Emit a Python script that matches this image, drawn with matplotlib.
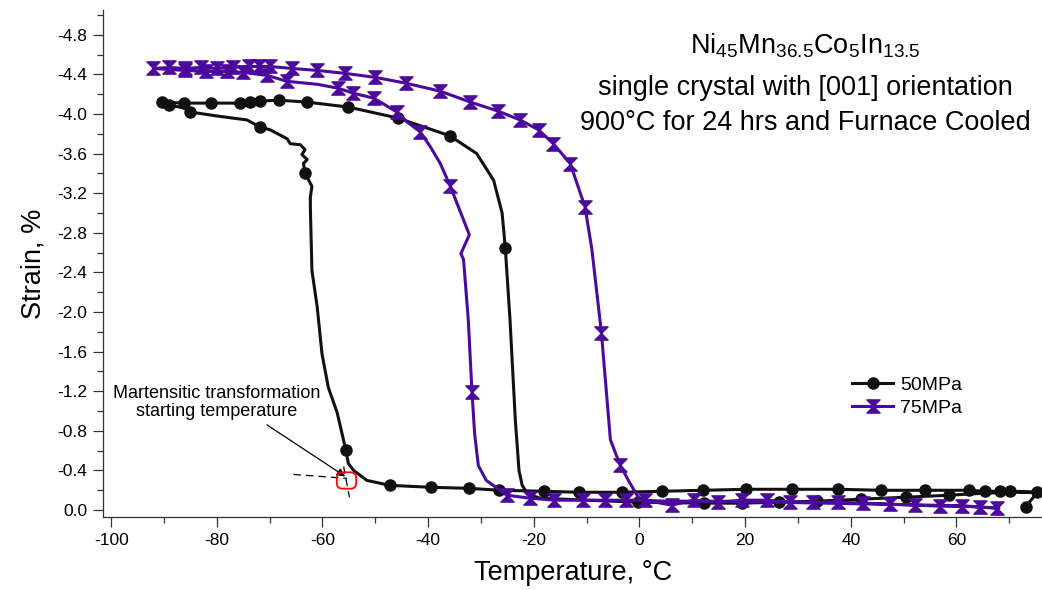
import numpy as np
import matplotlib
matplotlib.use('Agg')
import matplotlib.pyplot as plt
from matplotlib.path import Path
from matplotlib.patches import BoxStyle
from matplotlib.ticker import MultipleLocator, FormatStrFormatter, FuncFormatter

plt.rcParams['font.family'] = ['Liberation Sans', 'DejaVu Sans']
plt.rcParams['mathtext.fontset'] = 'custom'
plt.rcParams['mathtext.rm'] = 'Liberation Sans'
plt.rcParams['mathtext.it'] = 'Liberation Sans:italic'
plt.rcParams['axes.unicode_minus'] = False

# ---- 50 MPa: cooling branch (right -> left), then heating branch (left -> right)
t50_cool = [73.1, 75.3, 70.1, 68.2, 65.4, 62.4, 54.0, 45.8, 37.6, 28.9, 20.2, 12.1, 4.3, -3.3,
            -11.5, -18.0, -26.5, -32.3, -39.4, -47.3, -51.6, -54.1, -55.1, -55.6, -57.2, -58.9,
            -60.1, -61.0, -62.0, -62.3, -62.3, -62.0, -63.3, -63.6, -62.9, -63.9, -63.3, -64.2,
            -66.1, -66.7, -69.9, -71.9, -74.3, -80.0, -85.0, -86.0, -89.1, -90.4]
s50_cool = [-0.03, -0.18, -0.19, -0.19, -0.19, -0.20, -0.20, -0.20, -0.21, -0.21, -0.21, -0.20,
            -0.19, -0.18, -0.18, -0.19, -0.20, -0.22, -0.23, -0.25, -0.30, -0.40, -0.47, -0.61,
            -0.98, -1.24, -1.58, -2.05, -2.42, -3.06, -3.16, -3.27, -3.40, -3.50, -3.54, -3.59,
            -3.64, -3.69, -3.70, -3.75, -3.84, -3.87, -3.94, -3.98, -4.02, -4.06, -4.09, -4.12]
m50_cool = [1, 1, 1, 1, 1, 1, 1, 1, 1, 1, 1, 1, 1, 1, 1, 1, 1, 1, 1, 1, 0, 0, 0, 1,
            0, 0, 0, 0, 0, 0, 0, 0, 1, 0, 0, 0, 0, 0, 0, 0, 0, 1, 0, 0, 1, 0, 1, 1]

t50_heat = [-86.3, -81.2, -75.6, -73.8, -71.9, -68.3, -62.9, -55.1, -45.8, -35.9, -30.8, -27.6,
            -26.0, -25.4, -24.5, -23.5, -22.8, -22.2, -21.1, -18.8, -10.0, -0.2, 12.2, 19.5,
            26.4, 33.6, 41.9, 50.4, 58.6, 65.0, 70.0, 78.0]
s50_heat = [-4.11, -4.11, -4.11, -4.12, -4.13, -4.14, -4.12, -4.07, -3.96, -3.78, -3.60, -3.33,
            -3.00, -2.65, -1.92, -0.91, -0.40, -0.25, -0.16, -0.12, -0.10, -0.08, -0.07, -0.07,
            -0.08, -0.09, -0.11, -0.13, -0.15, -0.17, -0.18, -0.18]
m50_heat = [1, 1, 1, 1, 1, 1, 1, 1, 1, 1, 0, 0,
            0, 1, 0, 0, 0, 0, 0, 0, 0, 1, 1, 1,
            1, 1, 1, 1, 1, 0, 0, 0]

# ---- 75 MPa
t75_cool = [67.6, 64.4, 61.1, 56.8, 52.1, 47.4, 42.3, 37.6, 32.9, 28.5, 24.2, 19.5, 14.8, 10.4,
            6.1, 1.0, -2.6, -6.6, -10.6, -16.1, -20.7, -25.1, -26.9, -29.0, -30.5, -31.2, -31.7,
            -32.4, -33.3, -33.8, -32.2, -33.3, -35.8, -37.7, -39.6, -41.5, -44.0, -45.9, -50.3,
            -54.2, -57.0, -61.0, -66.7, -70.5, -75.0, -78.0, -82.0, -86.0, -92.0]
s75_cool = [-0.02, -0.03, -0.04, -0.04, -0.05, -0.06, -0.07, -0.08, -0.08, -0.08, -0.10, -0.10,
            -0.08, -0.10, -0.05, -0.10, -0.10, -0.10, -0.10, -0.10, -0.12, -0.15, -0.22, -0.30,
            -0.45, -0.77, -1.19, -1.92, -2.53, -2.59, -2.78, -2.93, -3.27, -3.50, -3.67, -3.82,
            -3.92, -4.02, -4.16, -4.21, -4.26, -4.30, -4.33, -4.39, -4.42, -4.43, -4.43, -4.44,
            -4.46]
m75_cool = [1, 1, 1, 1, 1, 1, 1, 1, 1, 1, 1, 1, 1, 1, 1, 1, 1, 1, 1, 1, 1, 1, 0, 0, 0, 0, 1,
            0, 0, 0, 0, 0, 1, 0, 0, 1, 0, 1, 1, 1, 1, 0, 1, 1, 1, 1, 1, 1, 1]

t75_heat = [-89.0, -86.0, -83.0, -80.0, -77.0, -74.0, -72.0, -69.9, -65.8, -61.0, -55.7, -50.0,
            -44.1, -37.7, -32.0, -26.8, -22.6, -19.1, -16.3, -13.1, -10.3, -9.0, -7.2, -5.5,
            -3.7, -2.1, 0.1, 5.0, 15.0, 25.0, 35.0, 45.0, 55.0, 62.0, 68.0]
s75_heat = [-4.47, -4.46, -4.47, -4.46, -4.47, -4.48, -4.48, -4.48, -4.46, -4.44, -4.41, -4.37,
            -4.31, -4.23, -4.12, -4.03, -3.94, -3.84, -3.70, -3.50, -3.06, -2.63, -1.79, -0.71,
            -0.46, -0.30, -0.10, -0.09, -0.09, -0.08, -0.07, -0.06, -0.05, -0.04, -0.02]
m75_heat = [1, 1, 1, 1, 1, 1, 1, 1, 1, 1, 1, 1,
            1, 1, 1, 1, 1, 1, 1, 1, 1, 0, 1, 0,
            1, 0, 0, 0, 0, 0, 0, 0, 0, 0, 0]

labels = ['50MPa', '75MPa']
title_lines = [r'Ni$_{45}$Mn$_{36.5}$Co$_{5}$In$_{13.5}$',
               'single crystal with [001] orientation',
               '900°C for 24 hrs and Furnace Cooled']

PURPLE = '#4b0a9b'
BLACK = '#111111'

# hourglass marker for the 75MPa curve
hourglass = Path([(-1, 1), (1, 1), (-1, -1), (1, -1), (-1, 1)],
                 [Path.MOVETO, Path.LINETO, Path.LINETO, Path.LINETO, Path.CLOSEPOLY])

fig = plt.figure(figsize=(10.42, 5.9), dpi=100)
ax = fig.add_axes([0.0991, 0.1237, 0.9009, 0.8593])

t50 = t50_cool + t50_heat
s50 = s50_cool + s50_heat
m50 = [bool(v) for v in m50_cool + m50_heat]
t75 = t75_cool + t75_heat
s75 = s75_cool + s75_heat
m75 = [bool(v) for v in m75_cool + m75_heat]

ax.plot(t50, s50, color=BLACK, lw=2.2, marker='o', ms=8, markevery=m50,
        label=labels[0], zorder=3)
ax.plot(t75, s75, color=PURPLE, lw=2.2, marker=hourglass, ms=9.5, markevery=m75,
        label=labels[1], zorder=4)

# annotation: transformation start
ax.plot([-65.5, -55.4], [-0.36, -0.32], color='black', lw=0.9, dashes=(6, 4), zorder=2)
ax.plot([-56.0, -54.9], [-0.44, -0.13], color='black', lw=0.9, dashes=(6, 4), zorder=2)
rbox = BoxStyle('Round', pad=0, rounding_size=0.3)(-0.5, -0.42, 1.0, 0.84, 1.0)
ax.plot([-55.5], [-0.30], marker=rbox, ms=14, mfc='none', mec='red', mew=1.3, ls='none', zorder=5)
ax.annotate('', xy=(-55.7, -0.34), xytext=(-70.5, -0.86),
            arrowprops=dict(arrowstyle='-|>', color='black', lw=0.9, mutation_scale=12,
                            shrinkA=0, shrinkB=0))
ax.text(-80.0, -1.09, 'Martensitic transformation\nstarting temperature', ha='center',
        va='center', fontsize=13, linespacing=1.1)

# axes
ax.set_xlim(-101.5, 76.2)
ax.set_ylim(0.07, -5.05)
ax.xaxis.set_major_locator(MultipleLocator(20))
ax.xaxis.set_minor_locator(MultipleLocator(10))
ax.yaxis.set_major_locator(MultipleLocator(0.4))
ax.yaxis.set_minor_locator(MultipleLocator(0.2))
ax.yaxis.set_major_formatter(FuncFormatter(lambda v, p: '%.1f' % (round(v, 1) + 0.0)))
ax.xaxis.set_major_formatter(FormatStrFormatter('%d'))
ax.spines['top'].set_visible(False)
ax.spines['right'].set_visible(False)
for sp in ['left', 'bottom']:
    ax.spines[sp].set_color('#333333')
    ax.spines[sp].set_linewidth(0.9)
ax.tick_params(which='major', direction='out', length=7.5, width=0.9, labelsize=12.5,
               pad=4, color='#333333')
ax.tick_params(which='minor', direction='out', length=4.5, width=0.9, color='#333333')
ax.set_xlabel('Temperature, °C', fontsize=19.5, labelpad=9)
ax.set_ylabel('Strain, %', fontsize=19.5, labelpad=8)

leg = ax.legend(loc='upper left', bbox_to_anchor=(0.798, 0.277), frameon=False, fontsize=14,
                handlelength=2.1, handletextpad=0.35, labelspacing=0.28, borderpad=0,
                borderaxespad=0)

fig.text(0.7726, 1 - 53.3 / 590, title_lines[0], ha='center', va='baseline', fontsize=19.5)
fig.text(0.7726, 1 - 95 / 590, title_lines[1], ha='center', va='baseline', fontsize=19.5)
fig.text(0.7726, 1 - 130 / 590, title_lines[2], ha='center', va='baseline', fontsize=19.5)

fig.savefig('out.png', dpi=100)
